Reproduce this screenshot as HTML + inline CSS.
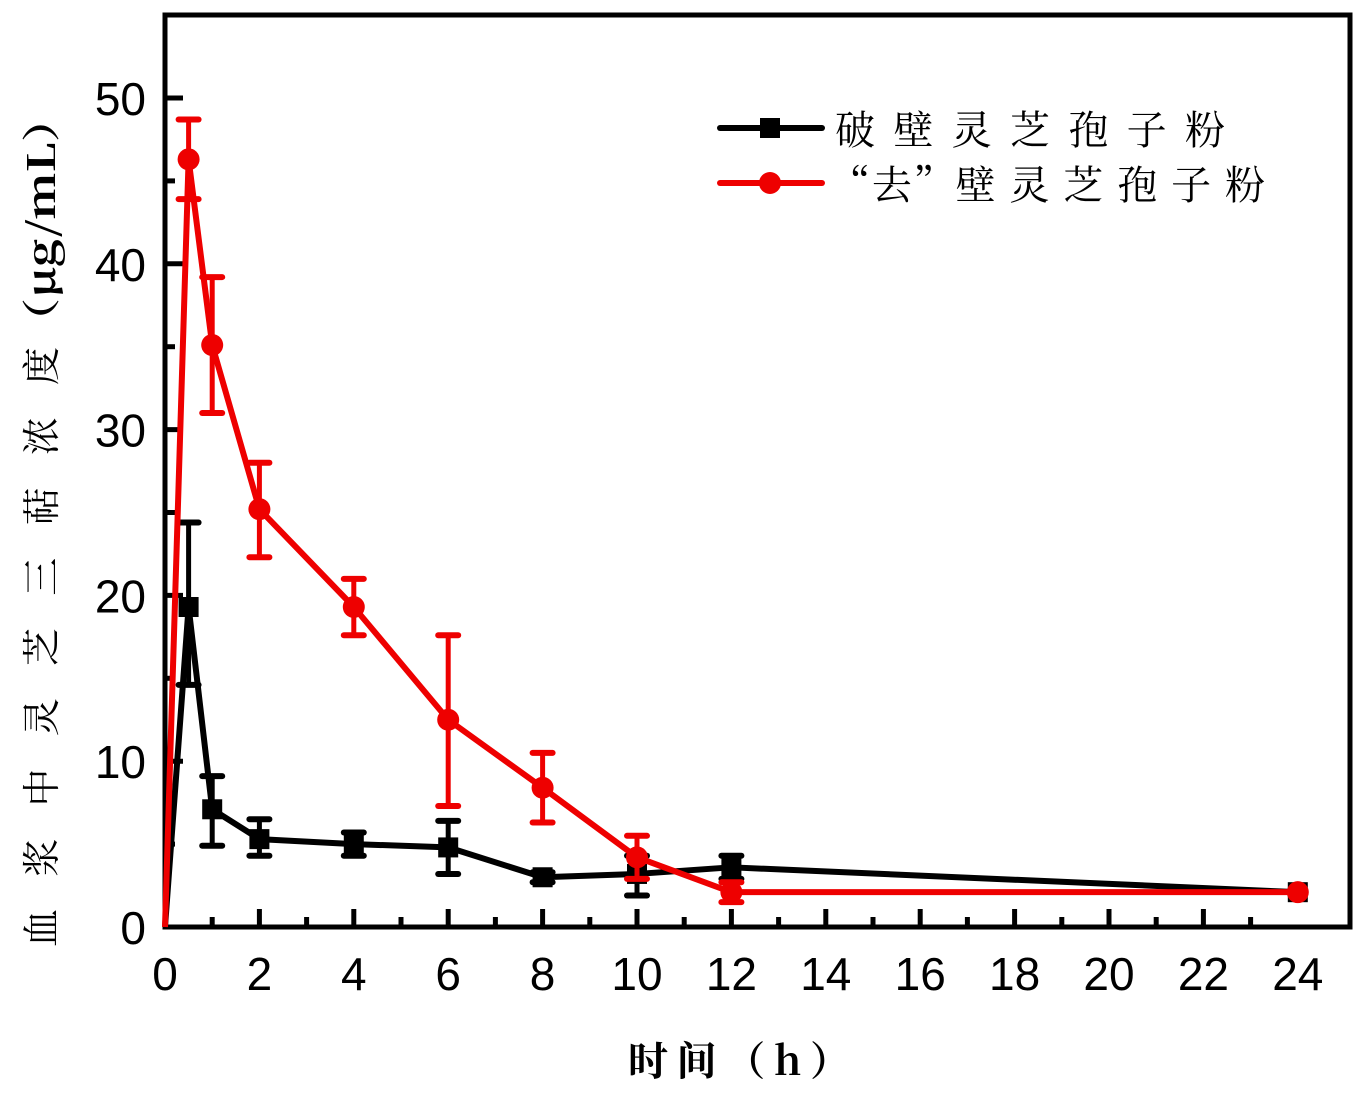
<!DOCTYPE html><html><head><meta charset="utf-8"><style>body{margin:0;background:#fff}svg{display:block}</style></head><body>
<svg width="1365" height="1093" xmlns="http://www.w3.org/2000/svg" font-family="Liberation Sans, sans-serif">
<rect x="165" y="15" width="1185" height="912" fill="none" stroke="#000" stroke-width="5"/>
<g stroke="#000" stroke-width="5" id="ticks"></g>
<g id="plot"></g>
<g font-size="46" fill="#000" text-anchor="end" id="yl"></g>
<g font-size="46" fill="#000" text-anchor="middle" id="xl"></g>
<text x="628" y="1075" font-size="40" textLength="222" lengthAdjust="spacing" font-family="Noto Serif CJK SC, serif" font-weight="bold">时间（h）</text>
<text transform="translate(55,947) rotate(-90)" font-size="38" textLength="600" lengthAdjust="spacing" font-family="Noto Serif CJK SC, serif">血浆中灵芝三萜浓度</text>
<text transform="translate(55,345) rotate(-90)" font-size="38" textLength="250" lengthAdjust="spacingAndGlyphs" font-family="Noto Serif CJK SC, serif" font-weight="bold">（μg/mL）</text>
<line x1="720" y1="128" x2="822" y2="128" stroke="#000" stroke-width="6" stroke-linecap="round"/>
<rect x="760" y="118" width="20" height="20" fill="#000"/>
<text x="835" y="144" font-size="40" textLength="390" lengthAdjust="spacing" font-family="Noto Serif CJK SC, serif">破  壁 灵 芝 孢 子 粉</text>
<line x1="720" y1="183" x2="822" y2="183" stroke="#e00" stroke-width="6" stroke-linecap="round"/>
<circle cx="770" cy="183" r="11" fill="#e00"/>
<text x="830" y="199" font-size="40" textLength="435" lengthAdjust="spacing" font-family="Noto Serif CJK SC, serif">“去”壁 灵 芝 孢 子 粉</text>
<script>
const X=t=>165+47.2*t,Y=v=>927-16.58*v,ns="http://www.w3.org/2000/svg";
function el(p,n,a){const e=document.createElementNS(ns,n);for(const k in a)e.setAttribute(k,a[k]);document.getElementById(p).appendChild(e);return e;}
for(let t=1;t<24;t++){const L=t%2?10:18;el('ticks','line',{x1:X(t),x2:X(t),y1:927,y2:927-L});}
for(let v=0;v<=50;v+=5){if(v==0)continue;const L=v%10?10:18;el('ticks','line',{x1:165,x2:165+L,y1:Y(v),y2:Y(v)});}
for(let v=0;v<=50;v+=10){const t=el('yl','text',{x:146,y:Y(v)+17});t.textContent=v;}
for(let t=0;t<=24;t+=2){const e=el('xl','text',{x:X(t),y:990});e.textContent=t;}
const T=[0,0.5,1,2,4,6,8,10,12,24];
const B=[0,19.3,7.1,5.3,5.0,4.8,3.0,3.2,3.6,2.1],BE=[[0,0],[14.6,24.4],[4.9,9.1],[4.3,6.5],[4.3,5.7],[3.2,6.4],[2.7,3.3],[1.9,4.3],[2.9,4.3],[2.1,2.1]];
const R=[0,46.3,35.1,25.2,19.3,12.5,8.4,4.2,2.1,2.1],RE=[[0,0],[43.9,48.7],[31,39.2],[22.3,28],[17.6,21],[7.3,17.6],[6.3,10.5],[2.9,5.5],[1.5,2.7],[2.1,2.1]];
function series(D,E,c,sq){
 el('plot','polyline',{points:T.map((t,i)=>X(t)+','+Y(D[i])).join(' '),fill:'none',stroke:c,'stroke-width':6,'stroke-linejoin':'round'});
 T.forEach((t,i)=>{if(E[i][0]==E[i][1])return;const x=X(t);
  el('plot','line',{x1:x,x2:x,y1:Y(E[i][0]),y2:Y(E[i][1]),stroke:c,'stroke-width':5});
  [0,1].forEach(j=>el('plot','line',{x1:x-10,x2:x+10,y1:Y(E[i][j]),y2:Y(E[i][j]),stroke:c,'stroke-width':6,'stroke-linecap':'round'}));});
 T.forEach((t,i)=>{if(t==0)return;if(sq)el('plot','rect',{x:X(t)-10,y:Y(D[i])-10,width:20,height:20,fill:c});else el('plot','circle',{cx:X(t),cy:Y(D[i]),r:11,fill:c});});
}
series(B,BE,'#000',true);series(R,RE,'#e00',false);
</script>
</svg></body></html>
